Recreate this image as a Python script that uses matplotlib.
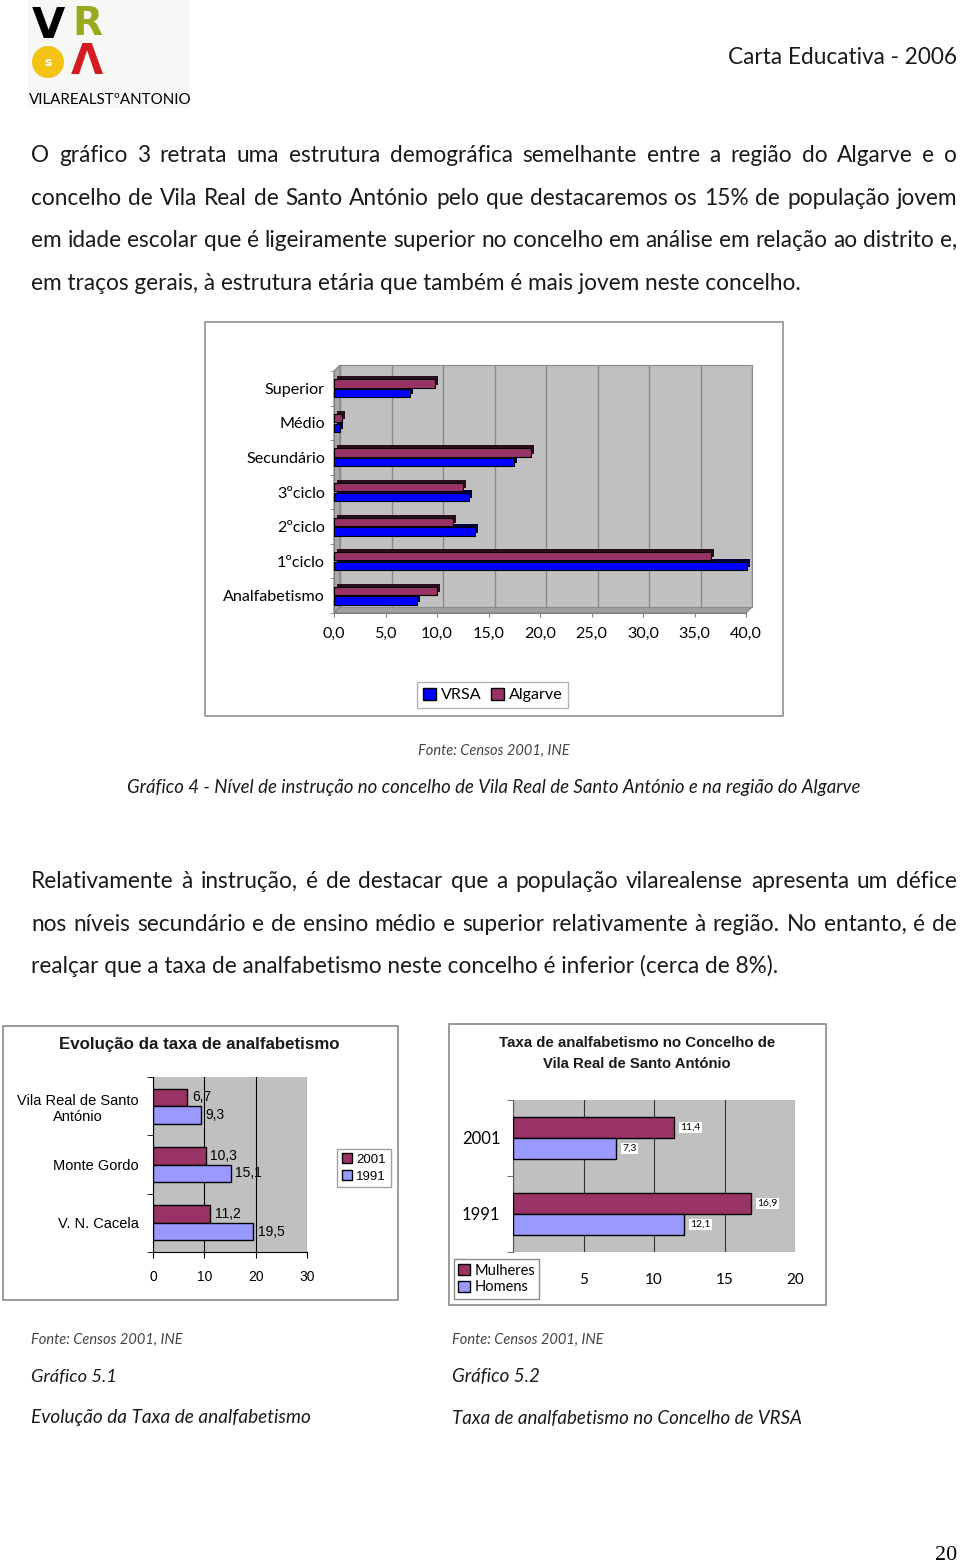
import matplotlib
matplotlib.use('Agg')
import matplotlib.pyplot as plt
from matplotlib.patches import Rectangle, Polygon, Circle, Patch
from matplotlib import transforms
import numpy as np

# ---------------- data ----------------
levels = ['Analfabetismo', '1ºciclo', '2ºciclo', '3ºciclo', 'Secundário', 'Médio', 'Superior']
vrsa = [8.1, 40.1, 13.7, 13.1, 17.5, 0.6, 7.4]
algarve = [10.0, 36.6, 11.6, 12.5, 19.1, 0.8, 9.8]
main_ticks = [0, 5, 10, 15, 20, 25, 30, 35, 40]

places = ['V. N. Cacela', 'Monte Gordo', 'Vila Real de Santo\nAntónio']
rate_2001 = [11.2, 10.3, 6.7]
rate_1991 = [19.5, 15.1, 9.3]
ticks_51 = [0, 10, 20, 30]

years = ['1991', '2001']
mulheres = [16.9, 11.4]
homens = [12.1, 7.3]
ticks_52 = [0, 5, 10, 15, 20]

para1 = ["O gráfico 3 retrata uma estrutura demográfica semelhante entre a região do Algarve e o",
         "concelho de Vila Real de Santo António pelo que destacaremos os 15% de população jovem",
         "em idade escolar que é ligeiramente superior no concelho em análise em relação ao distrito e,",
         "em traços gerais, à estrutura etária que também é mais jovem neste concelho."]
para2 = ["Relativamente à instrução, é de destacar que a população vilarealense apresenta um défice",
         "nos níveis secundário e de ensino médio e superior relativamente à região. No entanto, é de",
         "realçar que a taxa de analfabetismo neste concelho é inferior (cerca de 8%)."]

# ---------------- figure ----------------
W, H = 960, 1566
fig = plt.figure(figsize=(W / 100, H / 100), dpi=100)
fig.patch.set_facecolor('white')
R = fig.canvas.get_renderer()


def px_axes(x0, y0, x1, y1):
    return fig.add_axes([x0 / W, 1 - y1 / H, (x1 - x0) / W, (y1 - y0) / H])


ov = px_axes(0, 0, W, H)
ov.set_xlim(0, W)
ov.set_ylim(H, 0)
ov.axis('off')

BODY = 'Lato'
ARIAL = 'Liberation Sans'
MAROON = '#993366'
BLUE = '#0000ff'
PERI = '#9999ff'
INK = '#1a1a1a'


def fit_size(s, width, **kw):
    t = ov.text(0, 0, s, fontsize=10, **kw)
    w = t.get_window_extent(R).width
    t.remove()
    return 10 * width / w


def ptext(x, y, s, width=None, size=10, **kw):
    if width is not None:
        fk = {k: v for k, v in kw.items() if k in ('family', 'fontweight', 'fontstyle')}
        size = fit_size(s, width, **fk)
    return ov.text(x, y, s, fontsize=size, **kw)


def justify(y, line, size, x0=31, x1=957):
    words = line.split(' ')
    ts = [ov.text(0, y, w, fontsize=size, family=BODY, va='baseline', ha='left', color=INK)
          for w in words]
    widths = [t.get_window_extent(R).width for t in ts]
    gap = (x1 - x0 - sum(widths)) / (len(words) - 1)
    x = x0
    for t, w in zip(ts, widths):
        t.set_x(x)
        x += w + gap


# ---------------- header ----------------
ov.add_patch(Rectangle((28, 0), 162, 108, facecolor='#f7f7f5', edgecolor='none'))
ov.text(48, 26, 'V', fontsize=31, fontweight='heavy', family='DejaVu Sans', color='black',
        ha='center', va='center')
ov.text(87, 24, 'R', fontsize=28, fontweight='heavy', family='DejaVu Sans', color='#9aa81e',
        ha='center', va='center')
ov.add_patch(Circle((48, 62), 16, facecolor='#f3c316', edgecolor='none'))
ov.text(48, 63, 's', fontsize=9, fontweight='bold', color='white', ha='center', va='center')
ov.text(87, 62, 'Λ', fontsize=30, fontweight='heavy', family='DejaVu Sans', color='#d51b22',
        ha='center', va='center')
ptext(110, 100, 'VILAREALSTºANTONIO', width=161, family=BODY, ha='center', va='center', color='black')
ptext(957, 64, 'Carta Educativa - 2006', width=229, family=BODY, ha='right', va='baseline', color=INK)

# ---------------- body text ----------------
bsize = fit_size(para1[-1], 769, family=BODY)
for i, line in enumerate(para1[:-1]):
    justify(162 + 42.6 * i, line, bsize)
ov.text(31, 162 + 42.6 * 3, para1[-1], fontsize=bsize, family=BODY, va='baseline', color=INK)
for i, line in enumerate(para2[:-1]):
    justify(888 + 42.6 * i, line, bsize)
ov.text(31, 888 + 42.6 * 2, para2[-1], fontsize=bsize, family=BODY, va='baseline', color=INK)

# ---------------- main chart (Gráfico 4) ----------------
ov.add_patch(Rectangle((205, 322), 578, 394, facecolor='white', edgecolor='#9a9a9a', lw=1.3))
ov.add_patch(Polygon([(334, 371), (340, 365), (340, 607), (334, 613)], closed=True,
                     facecolor='#a8a8a8', edgecolor='#808080', lw=0.8))
ov.add_patch(Polygon([(334, 613), (340, 607), (752, 607), (746, 613)], closed=True,
                     facecolor='#a0a0a0', edgecolor='#808080', lw=0.8))

bg = px_axes(340, 365, 752, 607)
bg.set_facecolor('#c0c0c0')
bg.set_xlim(0, 40)
bg.set_xticks(main_ticks)
bg.set_yticks([])
bg.grid(axis='x', color='#8a8a8a', lw=1)
bg.tick_params(length=0, labelbottom=False)
for s in bg.spines.values():
    s.set_color('#8a8a8a')

ax = px_axes(334, 371, 746, 613)
ax.patch.set_alpha(0)
ypos = np.arange(len(levels))
sh = transforms.offset_copy(ax.transData, fig=fig, x=3, y=3, units='dots')
ax.barh(ypos + 0.14, algarve, height=0.24, color='#2a0d1c', transform=sh, clip_on=False, zorder=2)
ax.barh(ypos + 0.14, algarve, height=0.24, color=MAROON, edgecolor='black', lw=0.8,
        clip_on=False, zorder=3)
ax.barh(ypos - 0.14, vrsa, height=0.24, color='#000040', transform=sh, clip_on=False, zorder=2)
ax.barh(ypos - 0.14, vrsa, height=0.24, color=BLUE, edgecolor='black', lw=0.8,
        clip_on=False, zorder=3)
ax.set_xlim(0, 40)
ax.set_ylim(-0.5, len(levels) - 0.5)
lab_size = fit_size('Analfabetismo', 102, family=BODY)
ax.set_yticks(ypos, levels, fontsize=lab_size, family=BODY)
ax.set_yticks(np.arange(-0.5, len(levels), 1), minor=True)
ax.tick_params(axis='y', which='major', length=0, pad=6.5)
ax.tick_params(axis='y', which='minor', length=3, color='#808080')
ax.set_xticks(main_ticks, [f'{t:.1f}'.replace('.', ',') for t in main_ticks],
              fontsize=lab_size, family=BODY)
ax.tick_params(axis='x', length=3, pad=7, color='#808080')
for k in ('top', 'right'):
    ax.spines[k].set_visible(False)
for k in ('left', 'bottom'):
    ax.spines[k].set_color('#808080')
leg = ax.legend([Patch(facecolor=BLUE, edgecolor='black'), Patch(facecolor=MAROON, edgecolor='black')],
                ['VRSA', 'Algarve'], loc='center', bbox_to_anchor=(492.5 / W, 1 - 695 / H),
                bbox_transform=fig.transFigure, ncol=2, frameon=True, fancybox=False,
                edgecolor='#a0a0a0', prop={'family': BODY, 'size': lab_size},
                handlelength=0.8, handleheight=0.8, handletextpad=0.3, columnspacing=0.6,
                borderpad=0.35)
leg.get_frame().set_linewidth(1)

ptext(494, 751, 'Fonte: Censos 2001, INE', width=152, family=BODY, fontstyle='italic',
      ha='center', va='center', color='#444444')
ptext(494, 788, 'Gráfico 4 - Nível de instrução no concelho de Vila Real de Santo António e na região do Algarve',
      width=735, family=BODY, fontstyle='italic', ha='center', va='center', color=INK)

# ---------------- Gráfico 5.1 ----------------
ov.add_patch(Rectangle((3, 1026), 395, 274, facecolor='white', edgecolor='#8a8a8a', lw=1.2))
ptext(199, 1045, 'Evolução da taxa de analfabetismo', width=280, family=ARIAL,
      fontweight='bold', ha='center', va='center', color=INK)
ax1 = px_axes(153, 1077, 307, 1252)
ax1.set_facecolor('#c0c0c0')
yp = np.arange(len(places))
ax1.barh(yp + 0.15, rate_2001, 0.3, color=MAROON, edgecolor='black', lw=1, zorder=3, label='2001')
ax1.barh(yp - 0.15, rate_1991, 0.3, color=PERI, edgecolor='black', lw=1, zorder=3, label='1991')
for y, v in zip(yp, rate_2001):
    ax1.text(v + 0.9, y + 0.15, f'{v:.1f}'.replace('.', ','), va='center', ha='left',
             family=ARIAL, fontsize=10, clip_on=False)
for y, v in zip(yp, rate_1991):
    ax1.text(v + 0.9, y - 0.15, f'{v:.1f}'.replace('.', ','), va='center', ha='left',
             family=ARIAL, fontsize=10, clip_on=False)
ax1.set_xlim(0, 30)
ax1.set_ylim(-0.5, len(places) - 0.5)
ax1.set_xticks(ticks_51, [str(t) for t in ticks_51], family=ARIAL, fontsize=10)
ax1.set_yticks(yp, places, family=ARIAL, fontsize=10.5, multialignment='center')
ax1.set_yticks(np.arange(-0.5, len(places), 1), minor=True)
ax1.tick_params(axis='y', which='major', length=0, pad=10)
ax1.tick_params(axis='y', which='minor', length=4)
ax1.tick_params(axis='x', length=4, pad=9)
ax1.grid(axis='x', color='black', lw=0.8)
ax1.set_axisbelow(True)
ax1.spines['top'].set_visible(False)
ax1.spines['right'].set_visible(False)
ax1.legend(loc='center', bbox_to_anchor=(364 / W, 1 - 1168 / H), bbox_transform=fig.transFigure,
           frameon=True, fancybox=False, edgecolor='#8a8a8a',
           prop={'family': ARIAL, 'size': 9.5}, handlelength=0.8, handleheight=0.8,
           handletextpad=0.3, borderpad=0.35, labelspacing=0.3)

# ---------------- Gráfico 5.2 ----------------
ov.add_patch(Rectangle((449, 1024), 377, 281, facecolor='white', edgecolor='#8a8a8a', lw=1.2))
ptext(637, 1043, 'Taxa de analfabetismo no Concelho de', width=277, family=ARIAL,
      fontweight='bold', ha='center', va='center', color=INK)
ptext(637, 1064, 'Vila Real de Santo António', width=188, family=ARIAL,
      fontweight='bold', ha='center', va='center', color=INK)
ax2 = px_axes(513, 1100, 795, 1252)
ax2.set_facecolor('#c0c0c0')
yp2 = np.arange(len(years))
ax2.barh(yp2 + 0.14, mulheres, 0.28, color=MAROON, edgecolor='black', lw=1, zorder=3, label='Mulheres')
ax2.barh(yp2 - 0.14, homens, 0.28, color=PERI, edgecolor='black', lw=1, zorder=3, label='Homens')
for y, v in zip(yp2, mulheres):
    ax2.text(v + 0.45, y + 0.14, f'{v:.1f}'.replace('.', ','), va='center', ha='left',
             family=BODY, fontsize=7.5, bbox=dict(facecolor='white', edgecolor='none', pad=1))
for y, v in zip(yp2, homens):
    ax2.text(v + 0.45, y - 0.14, f'{v:.1f}'.replace('.', ','), va='center', ha='left',
             family=BODY, fontsize=7.5, bbox=dict(facecolor='white', edgecolor='none', pad=1))
ax2.set_xlim(0, 20)
ax2.set_ylim(-0.5, len(years) - 0.5)
ax2.set_xticks(ticks_52, [''] + [str(t) for t in ticks_52[1:]], family=BODY, fontsize=11)
ax2.set_yticks(yp2, years, family=BODY, fontsize=12)
ax2.set_yticks(np.arange(-0.5, len(years), 1), minor=True)
ax2.tick_params(axis='y', which='major', length=0, pad=9)
ax2.tick_params(axis='y', which='minor', length=4, color='#555555')
ax2.tick_params(axis='x', length=0, pad=15)
ax2.grid(axis='x', color='#333333', lw=0.8)
ax2.set_axisbelow(True)
for k in ('top', 'right', 'bottom'):
    ax2.spines[k].set_visible(False)
ax2.spines['left'].set_color('#555555')
ax2.axhline(-0.5, color='#555555', lw=0.8)
ax2.legend(loc='center', bbox_to_anchor=(496.5 / W, 1 - 1279 / H), bbox_transform=fig.transFigure,
           frameon=True, fancybox=False, edgecolor='#8a8a8a', framealpha=1,
           prop={'family': BODY, 'size': 10.5}, handlelength=0.8, handleheight=0.8,
           handletextpad=0.3, borderpad=0.3, labelspacing=0.2)

# ---------------- captions ----------------
for x0 in (31, 452):
    ptext(x0, 1340, 'Fonte: Censos 2001, INE', width=152, family=BODY, fontstyle='italic',
          ha='left', va='center', color='#444444')
ptext(31, 1377, 'Gráfico 5.1', width=86, family=BODY, fontstyle='italic', ha='left', va='center',
      color=INK)
ptext(31, 1418, 'Evolução da Taxa de analfabetismo', width=280, family=BODY, fontstyle='italic',
      ha='left', va='center', color=INK)
ptext(452, 1377, 'Gráfico 5.2', width=88, family=BODY, fontstyle='italic', ha='left', va='center',
      color=INK)
ptext(452, 1418, 'Taxa de analfabetismo no Concelho de VRSA', width=351, family=BODY,
      fontstyle='italic', ha='left', va='center', color=INK)
ptext(957, 1556, '20', width=22, family='Liberation Serif', ha='right', va='center', color='black')

fig.savefig('out.png', dpi=100, facecolor='white')
